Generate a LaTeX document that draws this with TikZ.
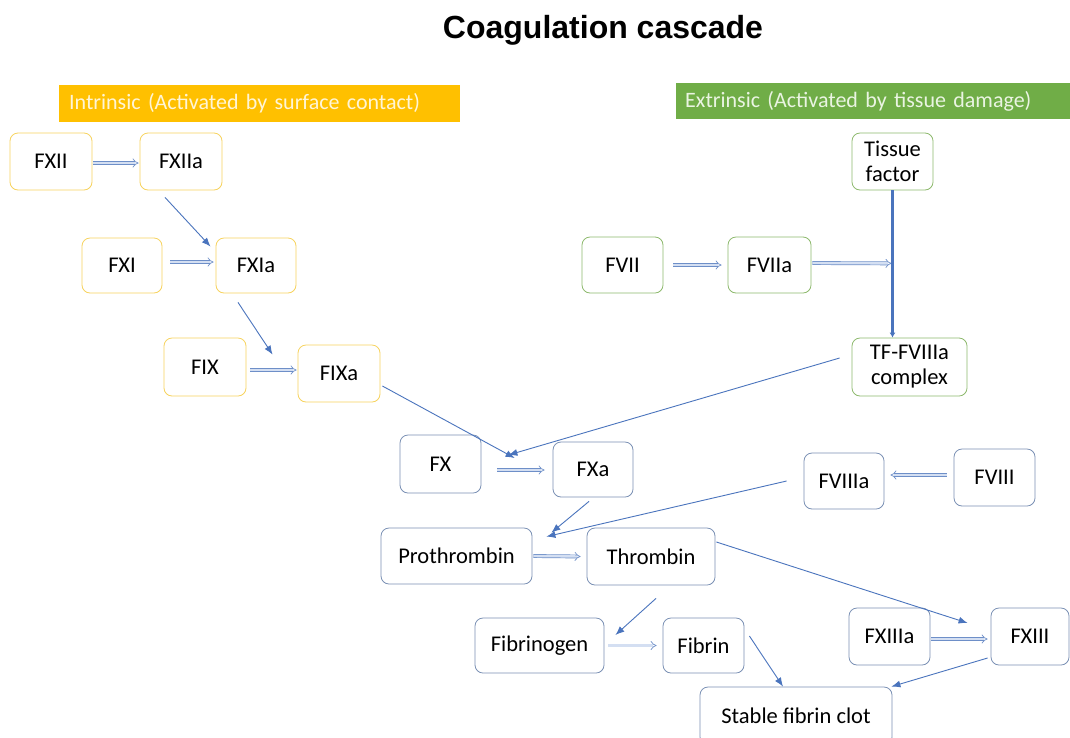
\documentclass[tikz,border=0pt]{standalone}
\usepackage{fontspec}
\setmainfont{Carlito}
\newfontfamily\titlefont{Liberation Sans}
\usetikzlibrary{arrows.meta,calc}
\definecolor{ybord}{HTML}{F7D35E}
\definecolor{gbord}{HTML}{8DB96C}
\definecolor{bbord}{HTML}{7A90B4}
\definecolor{arrc}{HTML}{4A74BD}
\definecolor{dblout}{HTML}{6E8FC8}
\definecolor{dblin}{HTML}{D4DFF2}
\definecolor{orangeh}{HTML}{FFC000}
\definecolor{greenh}{HTML}{70AD47}
\definecolor{otext}{HTML}{FFF5D6}
\definecolor{gtext}{HTML}{EAF4E2}
\tikzset{
  fbox/.style={rounded corners=8pt, fill=white, inner sep=0pt, line width=0.8pt, align=center,
    font=\fontsize{22.5}{26}\selectfont},
  ybox/.style={fbox, draw=ybord},
  gbox/.style={fbox, draw=gbord},
  bbox/.style={fbox, draw=bbord},
  arr/.style={draw=arrc, line width=0.9pt, -{Latex[length=9pt,width=7pt]}},
  dbl/.style={draw=dblout, double=dblin, double distance=2.4pt, line width=0.7pt, -{Implies}},
  hdr/.style={inner xsep=10pt, inner ysep=0pt, minimum height=37pt, align=left,
    font=\fontsize{22}{25}\selectfont, anchor=west}
}
\begin{document}
\begin{tikzpicture}[x=1pt,y=-1pt]
\clip (0,0) rectangle (1070,737);
\fill[white] (0,0) rectangle (1070,737);

\node[font=\titlefont\bfseries\fontsize{32}{36}\selectfont] (title) at (603,30) {Coagulation cascade};

\node[hdr, fill=orangeh, text=otext, text width=381pt] (intr) at (59,103.5) {Intrinsic (Activated by surface contact)};
\node[hdr, fill=greenh, text=gtext, text width=380pt, minimum height=36pt, inner xsep=9pt] (extr) at (676,101) {Extrinsic (Activated by tissue damage)};

% intrinsic
\node[ybox, minimum width=82pt, minimum height=57pt] (fxii) at (51,161.5) {FXII};
\node[ybox, minimum width=82pt, minimum height=57pt] (fxiia) at (181,161.5) {FXIIa};
\node[ybox, minimum width=80pt, minimum height=55pt] (fxi) at (122,265.5) {FXI};
\node[ybox, minimum width=80pt, minimum height=55pt] (fxia) at (256,265.5) {FXIa};
\node[ybox, minimum width=82pt, minimum height=58pt] (fix) at (205,367) {FIX};
\node[ybox, minimum width=82pt, minimum height=57pt] (fixa) at (339,373.5) {FIXa};

% extrinsic
\node[gbox, minimum width=81pt, minimum height=57pt] (tf) at (892.5,161.5) {Tissue\\[-1pt]factor};
\node[gbox, minimum width=81pt, minimum height=56pt] (fvii) at (622.5,265) {FVII};
\node[gbox, minimum width=83pt, minimum height=56pt] (fviia) at (769.5,265) {FVIIa};
\node[gbox, minimum width=115pt, minimum height=58pt] (tfc) at (909.5,367) {TF-FVIIIa\\[-1pt]complex};

% common
\node[bbox, minimum width=81pt, minimum height=58pt] (fx) at (440.5,464) {FX};
\node[bbox, minimum width=80pt, minimum height=55pt] (fxa) at (593,469.5) {FXa};
\node[bbox, minimum width=80pt, minimum height=56pt] (fviiia) at (844,481) {FVIIIa};
\node[bbox, minimum width=81pt, minimum height=57pt] (fviii) at (994.5,477.5) {FVIII};
\node[bbox, minimum width=151pt, minimum height=56pt] (proth) at (456.5,556) {Prothrombin};
\node[bbox, minimum width=128pt, minimum height=57pt] (thromb) at (651,556.5) {Thrombin};
\node[bbox, minimum width=129pt, minimum height=55pt] (fibg) at (539.5,645.5) {Fibrinogen};
\node[bbox, minimum width=81pt, minimum height=55pt] (fib) at (703.5,645.5) {Fibrin};
\node[bbox, minimum width=81pt, minimum height=57pt] (fxiiia) at (889.5,636.5) {FXIIIa};
\node[bbox, minimum width=78pt, minimum height=57pt] (fxiii) at (1030,636.5) {FXIII};
\node[bbox, minimum width=192pt, minimum height=58pt] (clot) at (796,716) {Stable fibrin clot};

% double arrows (conversions)
\draw[dbl] ($(fxii.east)+(1,1.5)$) -- ($(fxiia.west)+(-1,1.5)$);
\draw[dbl] ($(fxi.east)+(8,-3.5)$) -- ($(fxia.west)+(-2,-3.5)$);
\draw[dbl] ($(fix.east)+(4,3)$) -- ($(fixa.west)+(-1,-3.5)$);
\draw[dbl] ($(fvii.east)+(10,0)$) -- ($(fviia.west)+(-6,0)$);
\coordinate (tfmid) at ($(tf.south)+(-1,73)$);
\draw[dbl] ($(fviia.east)+(1,-2)$) -- (tfmid);
\draw[dbl] ($(fx.east)+(16,6)$) -- ($(fxa.west)+(-8,0.5)$);
\draw[dbl] ($(fviii.west)+(-7,-2.5)$) -- ($(fviiia.east)+(6,-6)$);
\draw[dbl] ($(proth.east)+(1,0)$) -- ($(thromb.west)+(-6,0)$);
\draw[dbl] ($(fibg.east)+(4,0)$) -- ($(fib.west)+(-6,0)$);
\draw[dbl] ($(fxiiia.east)+(1,2.5)$) -- ($(fxiii.west)+(-3,2.5)$);

% thick tissue factor line
\draw[draw=arrc, line width=3pt, -{Latex[length=5pt,width=6pt]}] (tf.south) -- (tf.south |- tfc.north);

% single arrows
\draw[arr] ($(fxiia.south)+(-16,7)$) -- ($(fxia.north west)+(-5,9)$);
\draw[arr] ($(fxia.south)+(-18,9)$) -- ($(fixa.north west)+(-25,10)$);
\draw[arr] ($(fixa.east)+(2,12.5)$) -- ($(fxa.west)+(-38,-11.5)$);
\draw[arr] ($(tfc.west)+(-12,-9)$) -- ($(fx.east)+(27,-9)$);
\draw[arr] ($(fxa.south)+(-4,4)$) -- ($(proth.north east)+(19,5)$);
\draw[arr] ($(fviiia.west)+(-17,0)$) -- ($(proth.north east)+(14,9)$);
\draw[arr] ($(thromb.east)+(1,-14.5)$) -- ($(fxiii.west)+(-23,-13.5)$);
\draw[arr] ($(thromb.south)+(5,13)$) -- ($(fibg.east)+(11,-10.5)$);
\draw[arr] ($(fib.east)+(5,-9.5)$) -- ($(clot.north)+(-13,0)$);
\draw[arr] ($(fxiii.west)+(-3,21.5)$) -- ($(clot.north east)+(-1,0)$);
\end{tikzpicture}
\end{document}
